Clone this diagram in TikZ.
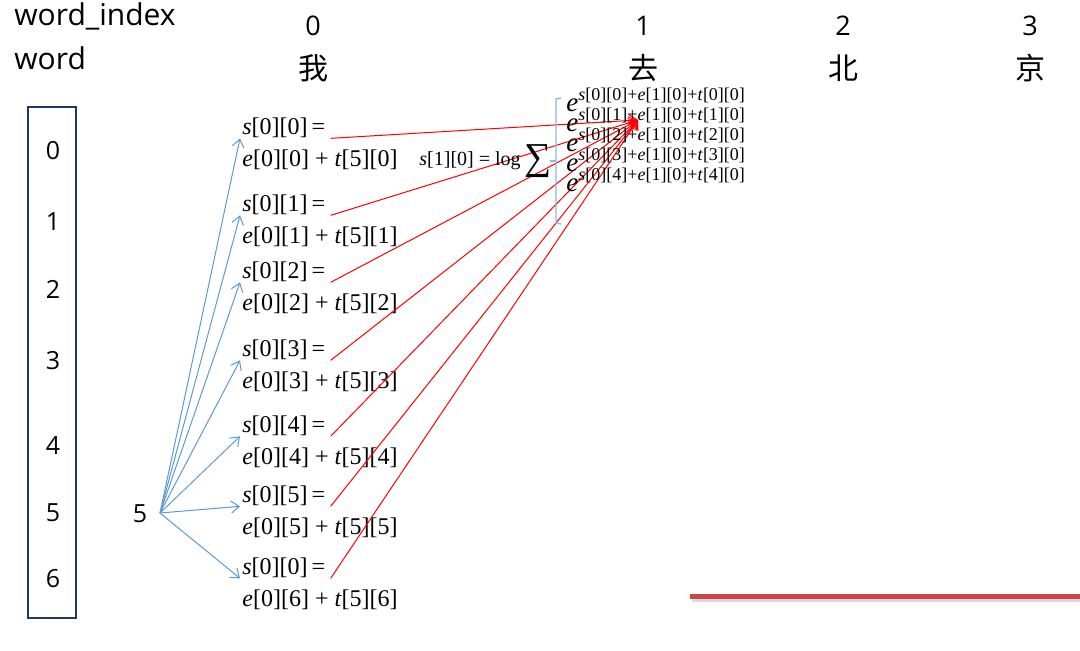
\documentclass[tikz,border=0pt]{standalone}
\usepackage{fontspec}
\usepackage{tikz}
\usetikzlibrary{arrows.meta}
\setmainfont{Liberation Serif}
\newfontfamily\uifont{Open Sans}
\newfontfamily\cjk{Noto Sans CJK SC}
\definecolor{boxblue}{RGB}{32,56,100}
\definecolor{fanblue}{RGB}{91,155,213}
\definecolor{barred}{RGB}{204,70,70}

\tikzset{ui/.style={font=\uifont\fontsize{15pt}{17pt}\selectfont, inner sep=0pt, anchor=west}}
\tikzset{idx/.style={font=\uifont\fontsize{12.5pt}{14pt}\selectfont, inner sep=0pt}}
\tikzset{hanzi/.style={font=\cjk\fontsize{15pt}{17pt}\selectfont, inner sep=0pt}}
\tikzset{term/.style={font=\fontsize{12pt}{14pt}\selectfont, inner sep=0pt, anchor=west}}
\tikzset{fanarrow/.style={-{Straight Barb[length=4pt,width=6pt]}, draw=fanblue, line width=0.5pt}}
\tikzset{sumarrow/.style={-{Straight Barb[length=4pt,width=6pt]}, draw=red, line width=0.5pt}}

\begin{document}
\begin{tikzpicture}[x=0.5pt, y=-0.5pt]
\useasboundingbox (0,0) rectangle (1080,650);

\node[ui] (winame) at (14,16) {word\_index};
\node[ui] (wname) at (14,58) {word};

% column heads
\foreach \c/\x/\h in {0/313/我, 1/643/去, 2/843/北, 3/1030/京} {
  \node[idx, font=\uifont\fontsize{13.5pt}{15pt}\selectfont] (col\c) at (\x,26) {\c};
  \node[hanzi] (han\c) at (\x,68) {\h};
}

% tag column
\node[draw=boxblue, line width=1pt, minimum width=24pt, minimum height=255.5pt,
      inner sep=0pt] (tagbox) at (52,362.5) {};
\foreach \t/\y in {0/151, 1/222, 2/289, 3/361, 4/446, 5/513, 6/579}
  \node[idx] (tag\t) at (53,\y) {\t};

\node[idx] (five) at (140,514) {5};
\coordinate (fan) at (160,513);
\coordinate (sumtip) at (638,120);

% scores of the first word
\foreach \i/\y/\k in {0/128/0, 1/205/1, 2/272/2, 3/350/3, 4/426/4, 5/496/5, 6/568/0} {
  \node[term] (s\i) at (242,\y) {\textit{s}[0][\k]\,=};
  \node[term] (e\i) at (242,\y+32) {\textit{e}[0][\i] + \textit{t}[5][\i]};
  \draw[fanarrow] (fan) -- ([xshift=-1pt]s\i.south west);
  \draw[sumarrow] ([xshift=2.5pt]s\i.south east) -- (sumtip);
}

% log-sum-exp
\node[inner sep=0pt, anchor=west, font=\fontsize{10pt}{12pt}\selectfont] (logsum) at (419,161) {\textit{s}[1][0] = log};
\node[inner sep=0pt, anchor=west, font=\fontsize{19pt}{20pt}\selectfont] (sumsign) at ([xshift=1.5pt]logsum.east) {∑};
\draw[fanblue!70, line width=0.7pt] (561,98) -- (556,99) -- (556,223) -- (561,224);
\draw[fanblue!70, line width=0.7pt] (556,161) -- (550,161);
\foreach \r in {0,...,4}
  \node[inner sep=0pt, anchor=base west] (ex\r) at (566,111+20*\r)
    {\fontsize{13.5pt}{14pt}\selectfont\textit{e}\raisebox{5.5pt}{\fontsize{9pt}{10pt}\selectfont
     \textit{s}[0][\r]+\textit{e}[1][0]+\textit{t}[\r][0]}};

% underline bar
\draw[black!15, line width=2.5pt] (692,599) -- (1080,599);
\draw[barred, line width=2.5pt] (690,596) -- (1080,596);
\end{tikzpicture}
\end{document}
